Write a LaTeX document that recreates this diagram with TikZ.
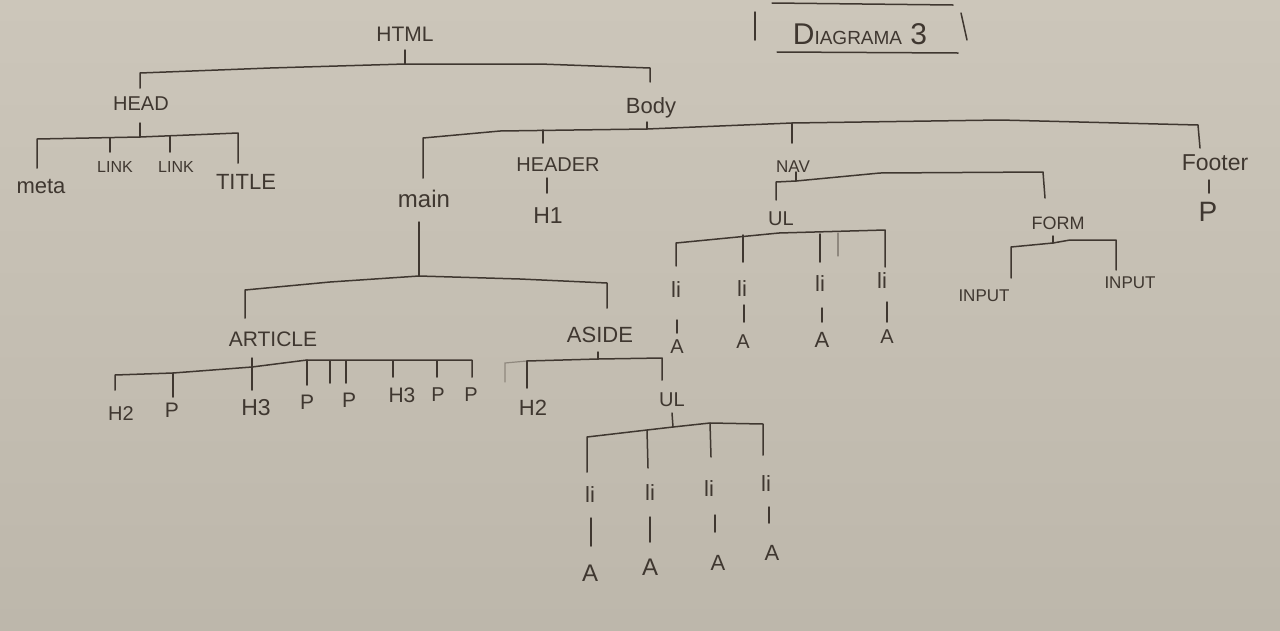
\documentclass[tikz,border=0pt]{standalone}
\usepackage{fontspec}
\setmainfont{Liberation Sans}
\newcommand{\myfs}[1]{\fontsize{#1}{#1}\selectfont}
\definecolor{paperA}{HTML}{CCC6BA}
\definecolor{paperB}{HTML}{BDB7AB}
\definecolor{ink}{HTML}{3F3730}
\definecolor{faint}{HTML}{8F887E}
\begin{document}
\begin{tikzpicture}[x=1pt,y=-1pt,
  ln/.style={draw=ink,line width=1.5pt,line cap=round,line join=round},
  fl/.style={draw=faint,line width=1.2pt,line cap=round},
  lbl/.style={inner sep=0pt,text=ink}]
\fill[top color=paperA,bottom color=paperB] (0,0) rectangle (1280,630);
\useasboundingbox (0,0) rectangle (1280,630);

% ---------- title ----------
\node[lbl] (ttl) at (860,34) {\myfs{30}D\myfs{19}IAGRAMA\myfs{30} 3};
\coordinate (tA) at (772,3);  \coordinate (tB) at (953,5);
\coordinate (tC) at (777,52); \coordinate (tD) at (958,53);
\coordinate (tE) at (755,12); \coordinate (tF) at (755,40);
\coordinate (tG) at (961,13); \coordinate (tH) at (967,40);
\draw[ln] (tA) -- (tB);
\draw[ln] (tC) -- (tD);
\draw[ln] (tE) -- (tF);
\draw[ln] (tG) -- (tH);

% ---------- nodes ----------
\node[lbl,font=\myfs{21}] (html) at (405,34) {HTML};
\node[lbl,font=\myfs{20}] (head) at (141,104) {HEAD};
\node[lbl,font=\myfs{22}] (body) at (651,108) {Body};
\node[lbl,font=\myfs{22}] (meta) at (41,186) {meta};
\node[lbl,font=\myfs{16}] (link1) at (115,167) {LINK};
\node[lbl,font=\myfs{16}] (link2) at (176,167) {LINK};
\node[lbl,font=\myfs{22}] (titl) at (246,182) {TITLE};
\node[lbl,font=\myfs{24}] (main) at (424,199) {main};
\node[lbl,font=\myfs{20}] (header) at (558,165) {HEADER};
\node[lbl,font=\myfs{23}] (h1) at (548,216) {H1};
\node[lbl,font=\myfs{17}] (nav) at (793,167) {NAV};
\node[lbl,font=\myfs{23}] (footer) at (1215,163) {Footer};
\node[lbl,font=\myfs{28}] (fp) at (1208,212) {P};
\node[lbl,font=\myfs{20}] (ul1) at (781,219) {UL};
\node[lbl,font=\myfs{18}] (form) at (1058,223) {FORM};
\node[lbl,font=\myfs{17}] (in1) at (984,296) {INPUT};
\node[lbl,font=\myfs{17}] (in2) at (1130,283) {INPUT};
\node[lbl,font=\myfs{22}] (li1) at (676,290) {li};
\node[lbl,font=\myfs{22}] (li2) at (742,289) {li};
\node[lbl,font=\myfs{22}] (li3) at (820,284) {li};
\node[lbl,font=\myfs{22}] (li4) at (882,281) {li};
\node[lbl,font=\myfs{20}] (a1) at (677,347) {A};
\node[lbl,font=\myfs{20}] (a2) at (743,342) {A};
\node[lbl,font=\myfs{22}] (a3) at (822,340) {A};
\node[lbl,font=\myfs{20}] (a4) at (887,337) {A};
\node[lbl,font=\myfs{21}] (article) at (273,339) {ARTICLE};
\node[lbl,font=\myfs{22}] (aside) at (600,335) {ASIDE};
\node[lbl,font=\myfs{20}] (h2a) at (121,414) {H2};
\node[lbl,font=\myfs{21}] (pa1) at (172,410) {P};
\node[lbl,font=\myfs{23}] (h3a) at (256,408) {H3};
\node[lbl,font=\myfs{21}] (pa2) at (307,402) {P};
\node[lbl,font=\myfs{21}] (pa3) at (349,400) {P};
\node[lbl,font=\myfs{21}] (h3b) at (402,395) {H3};
\node[lbl,font=\myfs{20}] (pa4) at (438,395) {P};
\node[lbl,font=\myfs{20}] (pa5) at (471,395) {P};
\node[lbl,font=\myfs{22}] (h2b) at (533,408) {H2};
\node[lbl,font=\myfs{20}] (ul2) at (672,400) {UL};
\node[lbl,font=\myfs{22}] (li5) at (590,495) {li};
\node[lbl,font=\myfs{22}] (li6) at (650,493) {li};
\node[lbl,font=\myfs{22}] (li7) at (709,489) {li};
\node[lbl,font=\myfs{22}] (li8) at (766,484) {li};
\node[lbl,font=\myfs{24}] (a5) at (590,573) {A};
\node[lbl,font=\myfs{24}] (a6) at (650,567) {A};
\node[lbl,font=\myfs{22}] (a7) at (718,563) {A};
\node[lbl,font=\myfs{22}] (a8) at (772,553) {A};

% ---------- HTML ----------
\coordinate (jhtml) at (405,64);
\draw[ln] (405,50) -- (jhtml);
\draw[ln] (140,88) -- (140,73) -- (270,68) -- (jhtml) -- (540,64) -- (650,68) -- (650,82);

% ---------- HEAD ----------
\coordinate (jhead) at (140,137);
\draw[ln] (140,123) -- (jhead);
\draw[ln] (37,168) -- (37,139) -- (jhead) -- (238,133) -- (238,163);
\draw[ln] (110,138) -- (110,152);
\draw[ln] (170,136) -- (170,152);

% ---------- BODY ----------
\coordinate (jbody) at (647,129);
\draw[ln] (647,122) -- (jbody);
\draw[ln] (423,178) -- (423,138) -- (500,131) -- (jbody) -- (792,123) -- (1000,120) -- (1198,125) -- (1200,148);
\draw[ln] (543,130) -- (543,143);
\draw[ln] (792,123) -- (792,143);
\draw[ln] (547,178) -- (547,193);
\draw[ln] (1209,180) -- (1209,193);

% ---------- NAV ----------
\coordinate (jnav) at (796,181);
\draw[ln] (796,172) -- (jnav);
\draw[ln] (776,200) -- (776,182) -- (jnav) -- (880,173) -- (1043,172) -- (1045,198);

% ---------- FORM ----------
\coordinate (jform) at (1053,243);
\draw[ln] (1053,236) -- (jform);
\draw[ln] (1011,278) -- (1011,247) -- (jform) -- (1070,240) -- (1116,240) -- (1116,270);

% ---------- UL (nav) ----------
\coordinate (jul1) at (779,233);
\draw[ln] (676,266) -- (676,243) -- (jul1) -- (885,230) -- (885,267);
\draw[ln] (743,235) -- (743,262);
\draw[ln] (820,234) -- (820,262);
\draw[fl] (838,233) -- (838,256);
\draw[ln] (677,320) -- (677,333);
\draw[ln] (744,305) -- (744,322);
\draw[ln] (822,308) -- (822,322);
\draw[ln] (887,302) -- (887,322);

% ---------- MAIN ----------
\coordinate (jmain) at (419,276);
\draw[ln] (419,222) -- (jmain);
\draw[ln] (245,318) -- (245,290) -- (330,282) -- (jmain) -- (520,279) -- (607,283) -- (607,308);

% ---------- ARTICLE ----------
\coordinate (jart) at (252,367);
\draw[ln] (252,358) -- (252,390);
\draw[ln] (115,390) -- (115,375) -- (173,373) -- (jart) -- (307,360) -- (472,360) -- (472,377);
\draw[ln] (173,373) -- (173,397);
\draw[ln] (307,360) -- (307,385);
\draw[ln] (330,361) -- (330,383);
\draw[ln] (346,361) -- (346,383);
\draw[ln] (393,361) -- (393,377);
\draw[ln] (437,361) -- (437,377);

% ---------- ASIDE ----------
\coordinate (jaside) at (598,359);
\draw[ln] (598,352) -- (jaside);
\draw[fl] (505,382) -- (505,363) -- (527,361);
\draw[ln] (527,361) -- (jaside) -- (662,358) -- (662,380);
\draw[ln] (527,361) -- (527,388);

% ---------- UL (aside) ----------
\coordinate (jul2) at (673,427);
\draw[ln] (672,413) -- (jul2);
\draw[ln] (587,472) -- (587,437) -- (647,430) -- (jul2) -- (710,423) -- (763,424) -- (763,455);
\draw[ln] (647,430) -- (648,468);
\draw[ln] (710,423) -- (711,457);
\draw[ln] (591,518) -- (591,546);
\draw[ln] (650,517) -- (650,542);
\draw[ln] (715,515) -- (715,532);
\draw[ln] (769,507) -- (769,523);
\end{tikzpicture}
\end{document}
